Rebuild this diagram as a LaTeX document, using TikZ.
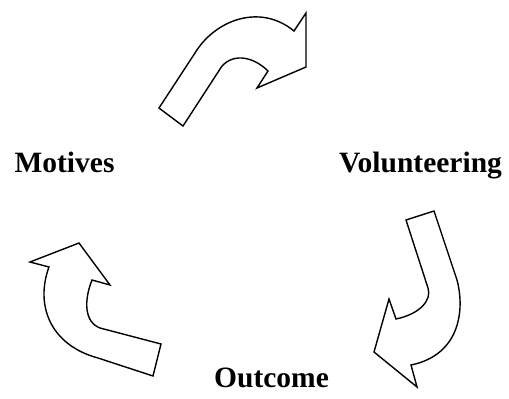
\documentclass[tikz,border=0pt]{standalone}
\usepackage{fontspec}
\setmainfont{Liberation Serif}
\usepackage{tikz}
\usepackage{xcolor}
\usetikzlibrary{arrows}
\usetikzlibrary{shapes}

\begin{document}
\begin{tikzpicture}[x=1pt,y=-1pt, stagetext/.style={font=\fontsize{29.5}{31}\selectfont\bfseries, anchor=base, inner sep=0pt}, bentarrow/.style={draw, fill=white, line width=1.4pt, line join=miter}]

    \useasboundingbox (0,0) rectangle (509,399);

    %===========================
    % Stages
    %===========================
    \node (motives) at (64.5,172) [stagetext] {Motives};
    \node (volunteering) at (420.5,172) [stagetext] {Volunteering};
    \node (outcome) at (271.5,387) [stagetext] {Outcome};


    %===========================
    % Block arrows
    %===========================

    % Top
    \draw[bentarrow] (159,108) -- (195,53) .. controls (215,20) and (260,3) .. (294,31)
        -- (306,13) -- (306,67) -- (257,88) -- (268,71)
        .. controls (255,58) and (235,52) .. (222,66) -- (183,126) -- cycle;

    % Right
    \draw[bentarrow] (406,220) -- (434,211) -- (457,280) .. controls (465,310) and (460,355) .. (411,365)
        -- (417,387) -- (374,352) -- (389,299) -- (396,319)
        .. controls (420,314) and (432,300) .. (428,288) -- cycle;

    % Left
    \draw[bentarrow] (79,243) -- (110,285) -- (92,280) .. controls (84,300) and (84,322) .. (100,328)
        -- (161,344) -- (153,376) -- (98,358)
        .. controls (50,345) and (35,305) .. (49,267) -- (30,262) -- cycle;

\end{tikzpicture}
\end{document}
